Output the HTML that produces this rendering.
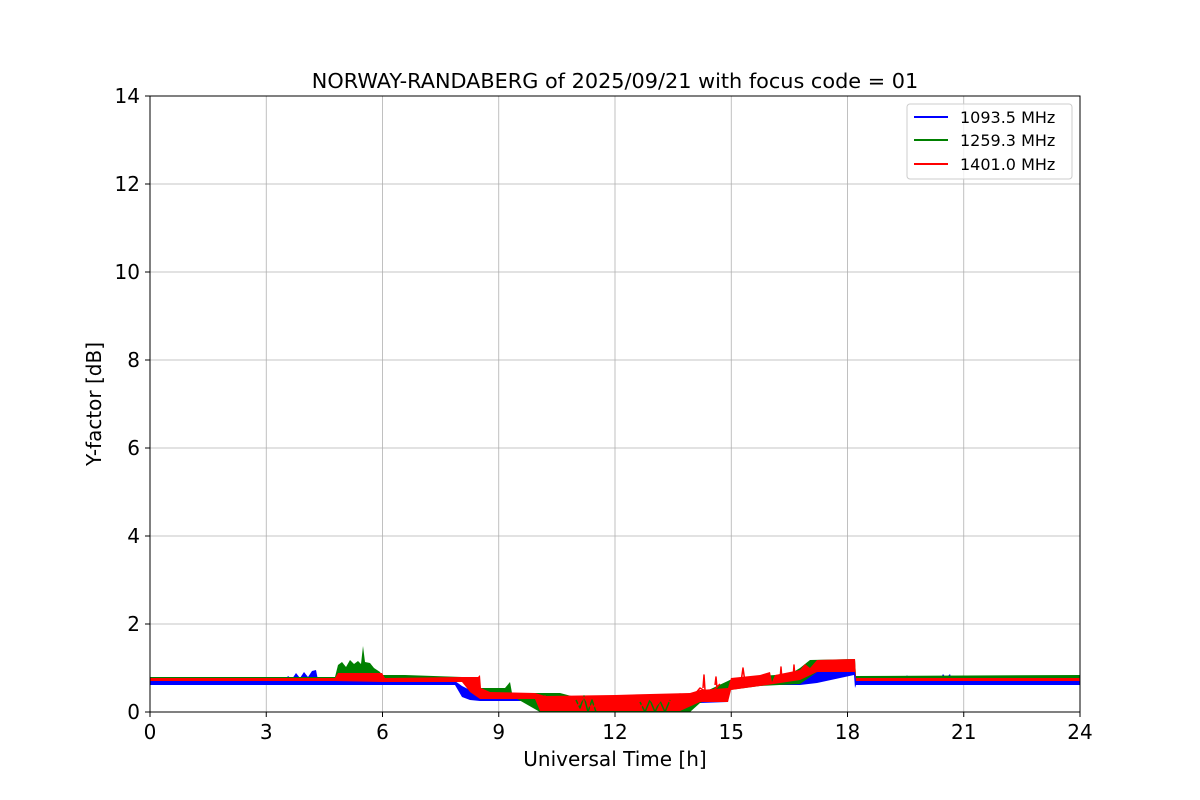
<!DOCTYPE html>
<html><head><meta charset="utf-8"><style>
html,body{margin:0;padding:0;background:#fff;}
svg{display:block;font-family:"DejaVu Sans","Liberation Sans",sans-serif;}
</style></head><body>
<svg width="1200" height="800" viewBox="0 0 1200 800" xmlns="http://www.w3.org/2000/svg">
<rect width="1200" height="800" fill="#fff"/>
<g stroke="#b0b0b0" stroke-width="0.8">
<line x1="266.25" y1="96" x2="266.25" y2="712"/>
<line x1="382.5" y1="96" x2="382.5" y2="712"/>
<line x1="498.75" y1="96" x2="498.75" y2="712"/>
<line x1="615" y1="96" x2="615" y2="712"/>
<line x1="731.25" y1="96" x2="731.25" y2="712"/>
<line x1="847.5" y1="96" x2="847.5" y2="712"/>
<line x1="963.75" y1="96" x2="963.75" y2="712"/>
<line x1="150" y1="624" x2="1080" y2="624"/>
<line x1="150" y1="536" x2="1080" y2="536"/>
<line x1="150" y1="448" x2="1080" y2="448"/>
<line x1="150" y1="360" x2="1080" y2="360"/>
<line x1="150" y1="272" x2="1080" y2="272"/>
<line x1="150" y1="184" x2="1080" y2="184"/>
</g>
<defs><clipPath id="c"><rect x="150" y="96" width="930" height="616"/></clipPath></defs>
<g clip-path="url(#c)" stroke-linejoin="round">
<polygon fill="#0000ff" points="150,680 285,680 288,676 292,679 296,673 300,678 304,672 308,677 312,671 316,670 318,680 455,681 462,686 470,690 480,697 533,697 560,700 615,702 690,697 700,696 730,680 800,680 808,675 817,668 855,667 856,680 905,680 907,675 909,680 940,680 943,674 946,678 950,674 952,680 1000,680 1050,680 1080,680 1080,685 856,685 855,688 854,675 817,683 800,685 730,685 728,702 700,703 615,706 533,701 480,701 470,700 462,697 455,685 150,685"/>
<polygon fill="#008000" points="150,677 335,677 338,665 342,662 346,667 350,660 354,664 358,661 361,664 363,646 365,662 370,663 374,668 380,672 382,675 405,675 462,677 470,684 480,688 505,688 510,682 512,693 560,693 575,697 590,702 610,705 650,707 690,696 700,694 730,680 760,676 790,674 800,668 810,660 855,659 856,676 1080,675 1080,679 856,679 855,672 817,672 800,684 760,686 730,690 700,703 690,712 560,712 540,712 512,696 480,695 470,692 462,680 405,679 382,679 335,680 150,680"/>
<polygon fill="#ff0000" points="150,678 335,678 338,673 382,673 385,678 462,677 478,677 480,675 481,688 490,692 535,693 545,696 615,695 650,694 690,693 700,690 728,688 731,678 760,675 770,672 772,682 775,675 800,670 805,664 810,668 817,660 855,659 856,678 1080,678 1080,681 856,681 855,672 817,672 800,680 760,686 731,690 728,702 700,702 680,711 540,711 535,699 480,699 470,692 462,682 382,682 335,681 150,681"/>
<path fill="none" stroke="#008000" stroke-width="1.5" d="M576,700 L580,708 L584,696 L588,712 L592,700 L596,712 M640,702 L645,712 L650,700 L655,712 L660,701 L665,712 L670,700"/>
<path fill="none" stroke="#ff0000" stroke-width="1.5" d="M537,700 L541,708 L545,696 L550,710 L556,698 L562,708 L570,697 L576,708 L584,697 L592,709 L600,698 L608,709 L616,697 L624,709 L632,698 L640,708 L648,697 L656,706 L664,696 L672,704 L680,694 L690,700 L700,688 L710,694 L720,684 M703,688 L704,675 L705,690 M715,685 L716,677 L717,688 M741,682 L743,668 L745,682 M780,680 L781,667 L782,680 M793,678 L794,665 L795,678"/>
</g>
<rect x="150" y="96" width="930" height="616" fill="none" stroke="#000" stroke-width="1"/>
<g stroke="#000" stroke-width="1">
<line x1="150" y1="712" x2="150" y2="717"/><line x1="266.25" y1="712" x2="266.25" y2="717"/><line x1="382.5" y1="712" x2="382.5" y2="717"/><line x1="498.75" y1="712" x2="498.75" y2="717"/><line x1="615" y1="712" x2="615" y2="717"/><line x1="731.25" y1="712" x2="731.25" y2="717"/><line x1="847.5" y1="712" x2="847.5" y2="717"/><line x1="963.75" y1="712" x2="963.75" y2="717"/><line x1="1080" y1="712" x2="1080" y2="717"/>
<line x1="145" y1="712" x2="150" y2="712"/><line x1="145" y1="624" x2="150" y2="624"/><line x1="145" y1="536" x2="150" y2="536"/><line x1="145" y1="448" x2="150" y2="448"/><line x1="145" y1="360" x2="150" y2="360"/><line x1="145" y1="272" x2="150" y2="272"/><line x1="145" y1="184" x2="150" y2="184"/><line x1="145" y1="96" x2="150" y2="96"/>
</g>
<g font-size="20" fill="#000" text-anchor="middle">
<text x="150" y="739">0</text><text x="266.25" y="739">3</text><text x="382.5" y="739">6</text><text x="498.75" y="739">9</text><text x="615" y="739">12</text><text x="731.25" y="739">15</text><text x="847.5" y="739">18</text><text x="963.75" y="739">21</text><text x="1080" y="739">24</text>
</g>
<g font-size="20" fill="#000" text-anchor="end">
<text x="140" y="719">0</text><text x="140" y="631">2</text><text x="140" y="543">4</text><text x="140" y="455">6</text><text x="140" y="367">8</text><text x="140" y="279">10</text><text x="140" y="191">12</text><text x="140" y="103">14</text>
</g>
<text x="615" y="766" font-size="20" text-anchor="middle">Universal Time [h]</text>
<text transform="translate(101,404) rotate(-90)" font-size="20" text-anchor="middle">Y-factor [dB]</text>
<text x="615" y="88" font-size="20.8" text-anchor="middle">NORWAY-RANDABERG of 2025/09/21 with focus code = 01</text>
<rect x="907" y="104" width="165" height="75" rx="3" fill="#fff" fill-opacity="0.8" stroke="#ccc"/>
<line x1="914" y1="117" x2="948" y2="117" stroke="#0000ff" stroke-width="2"/>
<line x1="914" y1="140" x2="948" y2="140" stroke="#008000" stroke-width="2"/>
<line x1="914" y1="164" x2="948" y2="164" stroke="#ff0000" stroke-width="2"/>
<g font-size="16" fill="#000">
<text x="960" y="123">1093.5 MHz</text><text x="960" y="146">1259.3 MHz</text><text x="960" y="170">1401.0 MHz</text>
</g>
</svg>
</body></html>
